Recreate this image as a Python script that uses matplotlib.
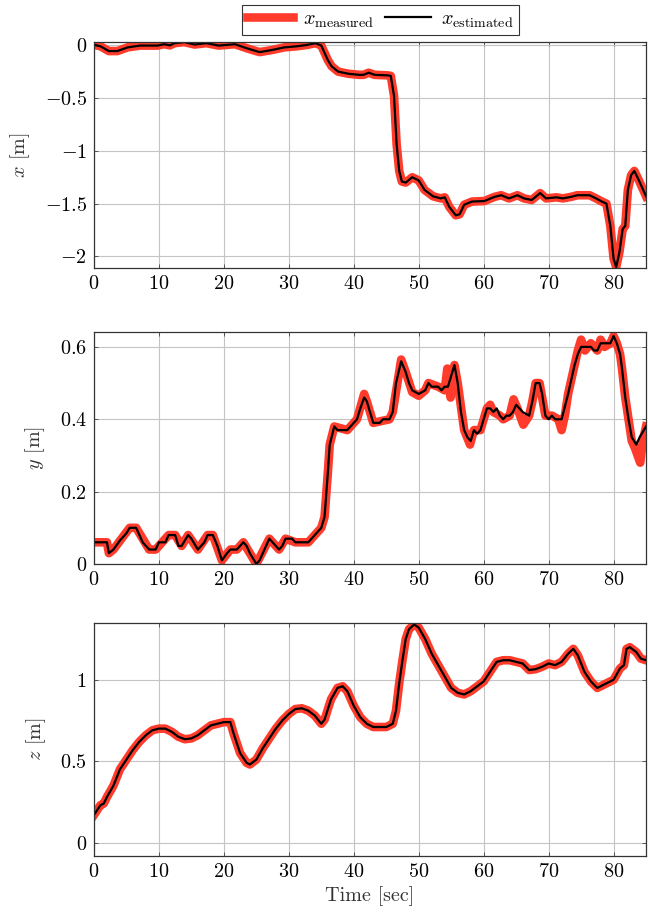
import matplotlib
matplotlib.use('Agg')
import matplotlib.pyplot as plt
from matplotlib.ticker import FuncFormatter

plt.rcParams['font.family'] = 'cmr10'
plt.rcParams['mathtext.fontset'] = 'cm'
plt.rcParams['axes.formatter.use_mathtext'] = True
plt.rcParams['font.size'] = 14.5

# x position (estimated)
x_t = [0, 1, 2.3, 3.6, 5.2, 7.1, 8.5, 9.8, 10.8, 11.7, 12.4, 13.9, 15.5, 17.3, 19.2,
       21.7, 23.6, 25.5, 27.4, 29.3, 31.2, 32.8, 34.1, 35.0, 36.0, 36.6, 37.6, 39.2,
       40.8, 41.5, 42.3, 43.2, 45.2, 45.7, 46.2, 46.6, 47.0, 47.4, 48.0, 49.0, 50.0,
       50.9, 52.2, 53.4, 54.0, 54.7, 55.7, 56.3, 57.0, 58.2, 60.1, 61.7, 62.7, 63.9,
       65.2, 66.2, 67.4, 68.7, 69.6, 71.2, 72.2, 73.5, 74.4, 76.3, 77.3, 78.2, 78.9,
       79.5, 80.0, 80.4, 80.9, 81.4, 81.8, 82.2, 82.7, 83.2, 83.9, 85.0]
x_est = [0.005, -0.01, -0.055, -0.055, -0.02, -0.003, -0.003, -0.003, 0.01, -0.001, 0.02,
         0.03, 0.007, 0.02, -0.003, 0.01, -0.03, -0.065, -0.045, -0.02, -0.01, 0.003,
         0.02, -0.003, -0.14, -0.2, -0.25, -0.27, -0.28, -0.28, -0.26, -0.28, -0.285,
         -0.29, -0.48, -0.94, -1.19, -1.29, -1.3, -1.25, -1.28, -1.37, -1.43, -1.45,
         -1.44, -1.53, -1.61, -1.6, -1.51, -1.48, -1.475, -1.435, -1.42, -1.45, -1.42,
         -1.45, -1.465, -1.4, -1.45, -1.44, -1.45, -1.435, -1.42, -1.42, -1.45, -1.48,
         -1.5, -1.71, -2.02, -2.1, -1.96, -1.74, -1.71, -1.37, -1.23, -1.19, -1.28, -1.43]

# y position (estimated)
y_t = [0, 1, 2, 2.3, 3, 4, 5, 5.5, 6.5, 7, 7.5, 8.5, 9.5, 10, 11, 11.5, 12.5, 13, 13.5,
       14.5, 15, 16, 17, 17.5, 18.3, 19, 19.7, 20.5, 21, 22, 23, 23.5, 24, 25, 25.5,
       26.5, 27, 28, 28.5, 29, 29.5, 30.5, 31, 33, 33.5, 34.5, 35, 35.5, 36, 36.3, 37,
       37.5, 39, 39.5, 40, 40.5, 41, 41.6, 42, 43, 44, 44.5, 45.5, 46, 46.5, 47.3, 48,
       48.5, 49, 50, 51, 51.5, 52, 53, 53.5, 54, 54.5, 55, 55.5, 56, 56.5, 57, 57.5, 58,
       58.5, 59, 59.5, 60, 60.5, 61, 61.5, 62, 62.5, 63, 63.5, 64, 64.5, 65, 66, 67,
       67.5, 68, 68.6, 69, 69.5, 70, 70.5, 71, 72, 73, 74, 74.5, 75, 76.5, 77, 77.5, 78,
       79.5, 80, 80.5, 81, 81.3, 81.8, 82.3, 82.8, 83.5, 84, 85]
y_est = [0.06, 0.06, 0.06, 0.03, 0.04, 0.065, 0.085, 0.1, 0.1, 0.08, 0.06, 0.04, 0.04,
         0.06, 0.06, 0.08, 0.08, 0.05, 0.05, 0.08, 0.07, 0.04, 0.06, 0.08, 0.08, 0.05,
         0.01, 0.03, 0.04, 0.04, 0.06, 0.05, 0.03, 0.0, 0.01, 0.05, 0.07, 0.05, 0.04,
         0.05, 0.07, 0.07, 0.06, 0.06, 0.07, 0.09, 0.1, 0.13, 0.25, 0.33, 0.38, 0.37,
         0.37, 0.38, 0.39, 0.40, 0.43, 0.46, 0.45, 0.39, 0.39, 0.4, 0.4, 0.42, 0.5, 0.56,
         0.53, 0.5, 0.48, 0.47, 0.48, 0.5, 0.49, 0.49, 0.48, 0.49, 0.49, 0.52, 0.55, 0.5,
         0.42, 0.37, 0.35, 0.34, 0.37, 0.36, 0.37, 0.40, 0.43, 0.43, 0.42, 0.43, 0.41,
         0.40, 0.41, 0.41, 0.42, 0.44, 0.42, 0.41, 0.45, 0.50, 0.50, 0.47, 0.41, 0.40,
         0.41, 0.40, 0.40, 0.47, 0.55, 0.58, 0.60, 0.60, 0.59, 0.59, 0.61, 0.61, 0.63,
         0.61, 0.58, 0.54, 0.46, 0.40, 0.35, 0.33, 0.35, 0.38]

# y measured: the raw track, with the small noise spikes seen in the red band
y_meas_t = [0, 2, 2.3, 3, 5.5, 6.5, 8.5, 9.5, 11.5, 12.5, 13.5, 14.5, 16, 17.5, 18.3,
            19.7, 21, 22, 23, 25, 27, 28.5, 29.5, 31, 33, 35, 35.5, 36, 36.3, 37, 39,
            40.5, 41.6, 42, 43, 45.5, 46, 47.3, 48, 49, 50, 51, 51.5, 53, 54, 54.4, 54.9,
            55.5, 56, 57, 57.9, 58.5, 59.5, 60.5, 61, 61.5, 62.5, 63, 64, 64.6, 65.2,
            66.1, 67, 67.5, 68, 68.6, 69.5, 70.5, 71.5, 72, 72.5, 73, 74, 74.5, 75, 75.6,
            76.5, 77, 77.5, 78, 78.6, 79.5, 80, 80.5, 81, 81.3, 81.8, 82.3, 82.8, 83.3,
            84.1, 84.5, 85]
y_meas = [0.06, 0.06, 0.03, 0.04, 0.1, 0.1, 0.04, 0.04, 0.08, 0.08, 0.05, 0.08, 0.04,
          0.08, 0.08, 0.01, 0.04, 0.04, 0.06, 0.0, 0.07, 0.04, 0.07, 0.06, 0.06, 0.1,
          0.13, 0.25, 0.33, 0.38, 0.37, 0.40, 0.47, 0.45, 0.39, 0.4, 0.42, 0.565, 0.53,
          0.475, 0.465, 0.48, 0.5, 0.49, 0.48, 0.54, 0.46, 0.55, 0.5, 0.37, 0.33, 0.37,
          0.37, 0.43, 0.44, 0.42, 0.41, 0.40, 0.41, 0.455, 0.43, 0.385, 0.41, 0.45, 0.50,
          0.50, 0.41, 0.41, 0.40, 0.37, 0.41, 0.47, 0.55, 0.59, 0.62, 0.59, 0.61, 0.60,
          0.59, 0.62, 0.60, 0.61, 0.63, 0.61, 0.58, 0.54, 0.46, 0.40, 0.34, 0.32, 0.28,
          0.34, 0.38]

# z position (estimated)
z_t = [0, 0.5, 1, 1.5, 2, 3, 4, 5, 6, 7, 8, 9, 10, 11, 12, 13, 14, 15, 16, 17, 18, 19,
       20, 21, 21.5, 22.5, 23.5, 24, 25, 26, 27, 28, 29, 30, 31, 32, 33, 34, 35, 35.5,
       36.5, 37.5, 38.3, 39, 40, 41, 42, 43, 44, 45, 46, 46.5, 47, 47.5, 48, 48.5, 49.3,
       50, 51, 52, 53, 54, 55, 56, 57, 58, 59, 60, 61, 62, 63, 64, 65, 66, 67, 68, 69,
       70, 71, 72, 73, 73.8, 74.5, 75.5, 76.5, 77.5, 78.5, 79, 80, 81, 81.6, 82, 82.5,
       83.5, 84.2, 85]
z_est = [0.17, 0.2, 0.23, 0.24, 0.28, 0.35, 0.45, 0.51, 0.57, 0.62, 0.66, 0.69, 0.70,
         0.70, 0.68, 0.65, 0.635, 0.64, 0.66, 0.69, 0.72, 0.73, 0.74, 0.74, 0.67, 0.55,
         0.49, 0.48, 0.51, 0.58, 0.64, 0.70, 0.75, 0.79, 0.82, 0.825, 0.81, 0.78, 0.73,
         0.755, 0.88, 0.95, 0.96, 0.93, 0.84, 0.77, 0.73, 0.71, 0.71, 0.71, 0.73, 0.81,
         0.98, 1.12, 1.25, 1.31, 1.34, 1.32, 1.25, 1.16, 1.09, 1.02, 0.95, 0.92, 0.91,
         0.93, 0.96, 0.99, 1.05, 1.11, 1.12, 1.12, 1.11, 1.10, 1.06, 1.065, 1.08, 1.10,
         1.09, 1.11, 1.16, 1.19, 1.15, 1.05, 0.99, 0.95, 0.97, 0.98, 1.0, 1.07, 1.09,
         1.19, 1.20, 1.17, 1.13, 1.12]

time_ticks = [0, 10, 20, 30, 40, 50, 60, 70, 80]
red = '#ff3b2b'


def fmt(v, pos):
    v = round(v, 6)
    if v == 0:
        return '$0$'
    return f'${v:g}$'


fig = plt.figure(figsize=(6.48, 9.15), dpi=100)
ax1 = fig.add_axes([0.145, 0.707, 0.852, 0.247])
ax2 = fig.add_axes([0.145, 0.3836, 0.852, 0.2535])
ax3 = fig.add_axes([0.145, 0.0645, 0.852, 0.2545])

panels = [
    (ax1, x_t, x_est, x_t, x_est, (-2.11, 0.03), [-2, -1.5, -1, -0.5, 0], r'$x$ [m]'),
    (ax2, y_t, y_est, y_meas_t, y_meas, (0, 0.641), [0, 0.2, 0.4, 0.6], r'$y$ [m]'),
    (ax3, z_t, z_est, z_t, z_est, (-0.082, 1.348), [0, 0.5, 1], r'$z$ [m]'),
]

for ax, te, ve, tm, vm, ylim, yt, ylab in panels:
    ax.plot(tm, vm, color=red, lw=6.2, zorder=2, label=r'$x_{\mathrm{measured}}$')
    ax.plot(te, ve, color='black', lw=1.6, zorder=3, label=r'$x_{\mathrm{estimated}}$')
    ax.set_xlim(0, 85)
    ax.set_ylim(*ylim)
    ax.set_xticks(time_ticks)
    ax.set_yticks(yt)
    ax.xaxis.set_major_formatter(FuncFormatter(fmt))
    ax.yaxis.set_major_formatter(FuncFormatter(fmt))
    ax.grid(True, color='#c4c4c4', lw=0.8, zorder=0)
    ax.set_axisbelow(True)
    ax.tick_params(direction='in', length=3, width=0.6, top=True, right=True,
                   labelsize=14.5, pad=5, color='#444444')
    for s in ax.spines.values():
        s.set_linewidth(0.9)
        s.set_color('#333333')
        s.set_zorder(4)
    ax.set_ylabel(ylab, fontsize=14.5, color='#333333', labelpad=9)

ax3.set_xlabel('Time [sec]', fontsize=14.5, color='#333333')

h, l = ax1.get_legend_handles_labels()
leg = fig.legend(h, l, loc='upper center', bbox_to_anchor=(0.587, 0.9945), ncol=2,
                 fontsize=14.5, frameon=True, fancybox=False, edgecolor='black',
                 handlelength=2.3, columnspacing=0.5, handletextpad=0.5,
                 borderpad=0.25, borderaxespad=0)
leg.get_frame().set_linewidth(0.8)

fig.savefig('out.png', dpi=100)
